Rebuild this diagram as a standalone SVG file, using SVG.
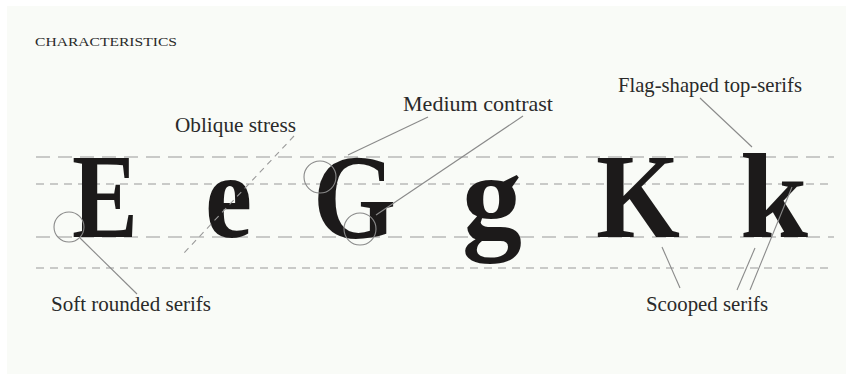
<svg xmlns="http://www.w3.org/2000/svg" width="846" height="374" viewBox="0 0 846 374">
<style>
.bg{fill:#f9fbf7}
.lbl{font-family:"Liberation Serif","Times New Roman",serif;font-size:21px;fill:#2a2a2a}
.hd{font-family:"Liberation Serif","Times New Roman",serif;font-size:13px;fill:#2a2a2a}
.gl{font-family:"Liberation Serif","Times New Roman",serif;font-weight:bold;font-size:120px;fill:#1c1a1a;text-anchor:start}
.gd1{stroke:#9a9a9a;stroke-width:1.2;stroke-dasharray:14 8;fill:none}
.gd2{stroke:#9a9a9a;stroke-width:1.2;stroke-dasharray:8 6;fill:none}
.ln{stroke:#8a8a8a;stroke-width:1.1;fill:none}
.dl{stroke:#9a9a9a;stroke-width:1.1;stroke-dasharray:6 5;fill:none}
.ci{stroke:#8a8a8a;stroke-width:1.1;fill:none}
</style>
<rect class="bg" x="7" y="6" width="839" height="368"/>
<g id="guides">
<line class="gd1" x1="36" y1="157" x2="834" y2="157"/>
<line class="gd2" x1="36" y1="184" x2="834" y2="184"/>
<line class="gd1" x1="36" y1="237" x2="834" y2="237"/>
<line class="gd2" x1="36" y1="268" x2="834" y2="268"/>
</g>
<g id="title"><text class="hd" x="35" y="46" textLength="142" lengthAdjust="spacingAndGlyphs">CHARACTERISTICS</text></g>
<g id="letter-E"><text class="gl" x="72" y="237" textLength="66" lengthAdjust="spacingAndGlyphs">E</text></g>
<g id="letter-e"><text class="gl" x="205" y="237" textLength="47" lengthAdjust="spacingAndGlyphs">e</text></g>
<g id="letter-G"><text class="gl" x="313" y="238" textLength="83" lengthAdjust="spacingAndGlyphs">G</text></g>
<g id="letter-g"><text class="gl" x="462" y="237" textLength="60" lengthAdjust="spacingAndGlyphs">g</text></g>
<g id="letter-K"><text class="gl" x="596" y="237" textLength="84" lengthAdjust="spacingAndGlyphs">K</text></g>
<g id="letter-k"><text class="gl" x="740" y="237" textLength="68" lengthAdjust="spacingAndGlyphs">k</text></g>
<g id="label-oblique"><text class="lbl" x="175" y="132" textLength="121" lengthAdjust="spacingAndGlyphs">Oblique stress</text></g>
<g id="label-medium"><text class="lbl" x="403" y="111" textLength="150" lengthAdjust="spacingAndGlyphs">Medium contrast</text></g>
<g id="label-flag"><text class="lbl" x="618" y="92" textLength="184" lengthAdjust="spacingAndGlyphs">Flag-shaped top-serifs</text></g>
<g id="label-soft"><text class="lbl" x="51" y="311" textLength="160" lengthAdjust="spacingAndGlyphs">Soft rounded serifs</text></g>
<g id="label-scooped"><text class="lbl" x="646" y="311" textLength="122" lengthAdjust="spacingAndGlyphs">Scooped serifs</text></g>
<g id="connectors">
<line class="dl" x1="294" y1="136" x2="183" y2="254"/>
<circle class="ci" cx="69" cy="227" r="15"/>
<line class="ln" x1="80" y1="238" x2="137" y2="294"/>
<circle class="ci" cx="320" cy="177" r="16"/>
<line class="ln" x1="348" y1="155" x2="428" y2="117"/>
<circle class="ci" cx="360" cy="229" r="16"/>
<line class="ln" x1="376" y1="215" x2="523" y2="116"/>
<line class="ln" x1="700" y1="98" x2="752" y2="147"/>
<line class="ln" x1="662" y1="247" x2="680" y2="288"/>
<line class="ln" x1="755" y1="248" x2="737" y2="290"/>
<line class="ln" x1="792" y1="187" x2="750" y2="290"/>
</g>
</svg>
